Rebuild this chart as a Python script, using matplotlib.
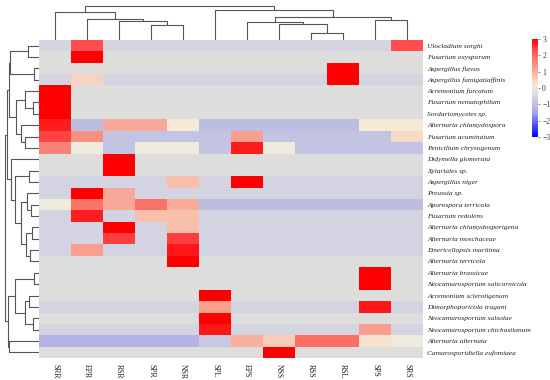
import numpy as np
import matplotlib
matplotlib.use('Agg')
import matplotlib.pyplot as plt
from matplotlib.colors import LinearSegmentedColormap

cols = ['SRR', 'EPR', 'RSR', 'SPR', 'NSR', 'SPL', 'EPS', 'NSS', 'RSS', 'RSL', 'SPS', 'SRS']
rows = ['Ulocladium sorghi', 'Fusarium oxysporum', 'Aspergillus flavus', 'Aspergillus fumigatiaffinis',
        'Acremonium furcatum', 'Fusarium nematophilum', 'Sordariomycetes sp.', 'Alternaria chlamydospora',
        'Fusarium acuminatum', 'Penicilium chrysogenum', 'Didymella glomerata', 'Xylariales sp.',
        'Aspergillus niger', 'Preussia sp.', 'Aporospora terricola', 'Fusarium redolens',
        'Alternaria chlamydosporigena', 'Alternaria moschaceae', 'Emericellopsis maritima',
        'Alternaria terricola', 'Alternaria brassicae', 'Neocamarosporium salicornicola',
        'Acremonium sclerotigenum', 'Dimorphoporicola tragani', 'Neocamarosporium salsolae',
        'Neocamarosporium chichastianum', 'Alternaria alternata', 'Camarosporidiella eufomiaea']

values = [
    [-0.6, 2.3, -0.6, -0.6, -0.6, -0.6, -0.6, -0.6, -0.6, -0.6, -0.6, 2.3],
    [-0.35, 3.0, -0.35, -0.35, -0.35, -0.35, -0.35, -0.35, -0.35, -0.35, -0.35, -0.35],
    [-0.35, -0.35, -0.35, -0.35, -0.35, -0.35, -0.35, -0.35, -0.35, 3.0, -0.35, -0.35],
    [-0.6, 0.5, -0.6, -0.6, -0.6, -0.6, -0.6, -0.6, -0.6, 3.0, -0.6, -0.6],
    [3.0, -0.35, -0.35, -0.35, -0.35, -0.35, -0.35, -0.35, -0.35, -0.35, -0.35, -0.35],
    [3.0, -0.35, -0.35, -0.35, -0.35, -0.35, -0.35, -0.35, -0.35, -0.35, -0.35, -0.35],
    [3.0, -0.35, -0.35, -0.35, -0.35, -0.35, -0.35, -0.35, -0.35, -0.35, -0.35, -0.35],
    [2.75, -1.05, 1.1, 1.1, 0.2, -1.05, -1.05, -1.05, -1.05, -1.05, 0.2, 0.2],
    [2.4, 1.4, -0.9, -0.9, -0.9, -0.9, 1.2, -0.9, -0.9, -0.9, -0.9, 0.4],
    [1.6, 0.0, -0.9, 0.0, 0.0, -0.9, 2.75, 0.0, -0.9, -0.9, -0.9, -0.9],
    [-0.35, -0.35, 3.0, -0.35, -0.35, -0.35, -0.35, -0.35, -0.35, -0.35, -0.35, -0.35],
    [-0.35, -0.35, 3.0, -0.35, -0.35, -0.35, -0.35, -0.35, -0.35, -0.35, -0.35, -0.35],
    [-0.6, -0.6, -0.6, -0.6, 0.8, -0.6, 3.0, -0.6, -0.6, -0.6, -0.6, -0.6],
    [-0.6, 3.0, 1.1, -0.6, -0.6, -0.6, -0.6, -0.6, -0.6, -0.6, -0.6, -0.6],
    [0.0, 1.85, 1.1, 1.85, 1.05, -1.05, -1.05, -1.05, -1.05, -1.05, -1.05, -1.05],
    [-0.6, 2.75, -0.6, 0.8, 0.8, -0.6, -0.6, -0.6, -0.6, -0.6, -0.6, -0.6],
    [-0.6, -0.6, 3.0, -0.6, 0.8, -0.6, -0.6, -0.6, -0.6, -0.6, -0.6, -0.6],
    [-0.6, -0.6, 2.45, -0.6, 2.45, -0.6, -0.6, -0.6, -0.6, -0.6, -0.6, -0.6],
    [-0.6, 1.2, -0.6, -0.6, 2.8, -0.6, -0.6, -0.6, -0.6, -0.6, -0.6, -0.6],
    [-0.35, -0.35, -0.35, -0.35, 3.0, -0.35, -0.35, -0.35, -0.35, -0.35, -0.35, -0.35],
    [-0.35, -0.35, -0.35, -0.35, -0.35, -0.35, -0.35, -0.35, -0.35, -0.35, 3.0, -0.35],
    [-0.35, -0.35, -0.35, -0.35, -0.35, -0.35, -0.35, -0.35, -0.35, -0.35, 3.0, -0.35],
    [-0.35, -0.35, -0.35, -0.35, -0.35, 3.0, -0.35, -0.35, -0.35, -0.35, -0.35, -0.35],
    [-0.6, -0.6, -0.6, -0.6, -0.6, 1.2, -0.6, -0.6, -0.6, -0.6, 2.8, -0.6],
    [-0.35, -0.35, -0.35, -0.35, -0.35, 3.0, -0.35, -0.35, -0.35, -0.35, -0.35, -0.35],
    [-0.6, -0.6, -0.6, -0.6, -0.6, 2.8, -0.6, -0.6, -0.6, -0.6, 1.2, -0.6],
    [-1.25, -1.25, -1.25, -1.25, -1.25, -0.8, 1.0, 0.6, 1.9, 1.9, 0.3, 0.0],
    [-0.35, -0.35, -0.35, -0.35, -0.35, -0.35, -0.35, 3.0, -0.35, -0.35, -0.35, -0.35],
]

# dendrogram structures: (left, right, merge height)
col_tree = ((0, (1, (2, (3, 4, 15), 19), 21.4), 27.7),
            (5, ((6, (7, (8, 9, 7), 15.8), 18.2), (10, 11, 20), 22.8), 30.2), 34)
row_A = ((0, 1, 11), (2, 3, 5), 29)
row_B = ((4, (5, 6, 6), 14), (7, (8, 9, 14), 18), 23)
row_C = ((11, 12, 10), ((13, (14, 15, 8), 12), ((16, 17, 7), (18, 19, 9), 13), 18), 24)
row_E = ((20, 21, 5), ((22, 23, 10), (24, 25, 6), 14), 24)
row_tree = (((row_A, row_B, 30), (10, row_C, 28), 32.5), (row_E, (26, 27, 30), 31), 34)

anchors = [(-3.0, (0, 0, 255)), (-1.5, (165, 165, 232)), (-1.2, (182, 182, 228)),
           (-0.9, (196, 196, 226)), (-0.6, (211, 211, 225)), (-0.35, (221, 221, 221)),
           (0.0, (237, 236, 220)), (0.2, (245, 234, 214)), (0.5, (246, 212, 192)),
           (0.8, (248, 192, 172)), (1.1, (248, 168, 152)), (1.5, (248, 138, 126)),
           (1.9, (250, 112, 102)), (2.3, (255, 80, 80)), (2.7, (255, 36, 36)), (3.0, (255, 0, 0))]
cmap = LinearSegmentedColormap.from_list(
    'custom', [((v + 3) / 6, tuple(c / 255 for c in col)) for v, col in anchors])

W, H = 550, 380
fig = plt.figure(figsize=(5.5, 3.8), dpi=100)

def fx(px):
    return px / W

def fy(py):
    return 1 - py / H

hm_l, hm_r, hm_t, hm_b = 39, 423, 40, 358
ax = fig.add_axes([fx(hm_l), fy(hm_b), fx(hm_r - hm_l), (hm_b - hm_t) / H])
data = np.array(values)
im = ax.imshow(data, cmap=cmap, vmin=-3, vmax=3, aspect='auto', interpolation='nearest',
               extent=(0, len(cols), len(rows), 0))
ax.set_xlim(0, len(cols))
ax.set_ylim(len(rows), 0)
for s in ax.spines.values():
    s.set_visible(False)
ax.yaxis.tick_right()
ax.set_yticks(np.arange(len(rows)) + 0.5)
ax.set_yticklabels(rows, fontsize=5.3, fontstyle='italic', family='Liberation Serif', color='#222222')
ax.set_xticks(np.arange(len(cols)) + 0.5)
ax.set_xticklabels(cols, fontsize=5.6, rotation=270, family='Liberation Serif', color='#222222')
ax.tick_params(length=0, pad=3)
ax.tick_params(axis='x', pad=4)

line_kw = dict(color='#555555', lw=0.8, solid_capstyle='butt')

def draw_tree(a, node, orient):
    if isinstance(node, int):
        return node + 0.5, 0.0
    left, right, h = node
    p1, h1 = draw_tree(a, left, orient)
    p2, h2 = draw_tree(a, right, orient)
    if orient == 'top':
        a.plot([p1, p1, p2, p2], [h1, h, h, h2], **line_kw)
    else:
        a.plot([h1, h, h, h2], [p1, p1, p2, p2], **line_kw)
    return (p1 + p2) / 2, h

axt = fig.add_axes([fx(hm_l), fy(hm_t), fx(hm_r - hm_l), 35 / H])
draw_tree(axt, col_tree, 'top')
axt.set_xlim(0, len(cols))
axt.set_ylim(0, 35)
axt.axis('off')

axl = fig.add_axes([fx(3), fy(hm_b), fx(36), (hm_b - hm_t) / H])
draw_tree(axl, row_tree, 'left')
axl.set_ylim(len(rows), 0)
axl.set_xlim(36, 0)
axl.axis('off')

cax = fig.add_axes([fx(532), fy(137), fx(6), 98 / H])
cb = fig.colorbar(im, cax=cax, ticks=[-3, -2, -1, 0, 1, 2, 3])
cb.outline.set_visible(False)
cb.ax.tick_params(labelsize=5.5, length=1.5, width=0.4, pad=1.5, colors='#333333')
for t in cb.ax.get_yticklabels():
    t.set_family('Liberation Serif')

fig.savefig('out.png', dpi=100)
